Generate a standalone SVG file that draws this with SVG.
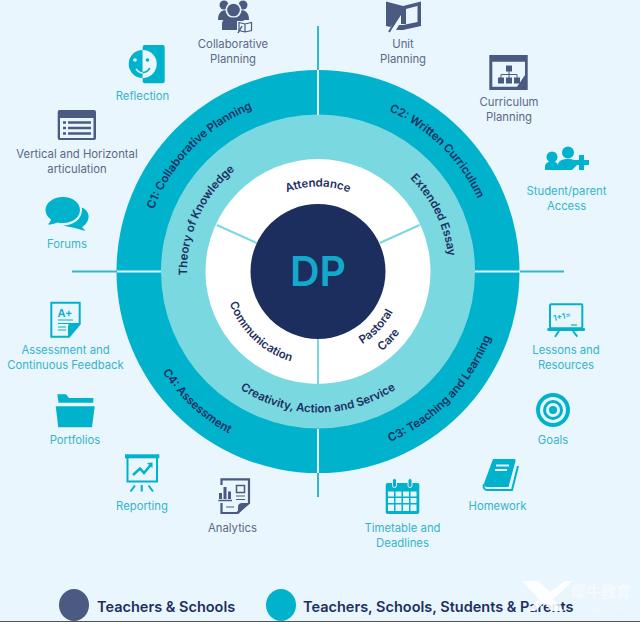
<svg xmlns="http://www.w3.org/2000/svg" width="640" height="622" viewBox="0 0 640 622">
<style>
text{font-family:"Inter","Noto Sans","Noto Sans CJK SC",sans-serif}
.s{fill:#5b6888;font-size:11.3px;text-anchor:middle}
.t{fill:#35b4ca;font-size:11.3px;text-anchor:middle}
.a{fill:#1d2f60;font-size:11.5px;font-weight:600;text-anchor:middle}
.l{fill:#1d2f60;font-size:14.5px;font-weight:600}
.ts{fill:#00b2cb}.ss{fill:#4a5a80}.bg{fill:#eaf6fd}
.sl{fill:none;stroke:#4a5a80;stroke-width:2}
</style>
<defs>
<path id="pc1" d="M142.500 271.500A175.500 175.500 0 0 1 318 96A175.500 175.500 0 0 1 493.500 271.500" transform="rotate(-45.600 318 271.500)"/>
<path id="pc2" d="M142.500 271.500A175.500 175.500 0 0 1 318 96A175.500 175.500 0 0 1 493.500 271.500" transform="rotate(44.700 318 271.500)"/>
<path id="pc3" d="M133 271.500A185 185 0 0 0 318 456.500A185 185 0 0 0 503 271.500" transform="rotate(-46 318 271.500)"/>
<path id="pc4" d="M133 271.500A185 185 0 0 0 318 456.500A185 185 0 0 0 503 271.500" transform="rotate(43 318 271.500)"/>
<path id="ptk" d="M187 271.500A131 131 0 0 1 318 140.500A131 131 0 0 1 449 271.500" transform="rotate(-65.500 318 271.500)"/>
<path id="pee" d="M187 271.500A131 131 0 0 1 318 140.500A131 131 0 0 1 449 271.500" transform="rotate(64 318 271.500)"/>
<path id="pcas" d="M177 271.500A141 141 0 0 0 318 412.500A141 141 0 0 0 459 271.500"/>
<path id="pat" d="M233 271.500A85 85 0 0 1 318 186.500A85 85 0 0 1 403 271.500"/>
<path id="pcm" d="M224 271.500A94 94 0 0 0 318 365.500A94 94 0 0 0 412 271.500" transform="rotate(43.500 318 271.500)"/>
<path id="ppa" d="M233 271.500A85 85 0 0 0 318 356.500A85 85 0 0 0 403 271.500" transform="rotate(-46.500 318 271.500)"/>
<path id="pca" d="M216 271.500A102 102 0 0 0 318 373.500A102 102 0 0 0 420 271.500" transform="rotate(-46 318 271.500)"/>
</defs>
<rect width="640" height="622" fill="#eaf6fd"/>
<g id="rings">
<circle cx="318" cy="271.500" r="201.500" fill="#00b2cb"/>
<circle cx="318" cy="271.500" r="157" fill="#7ad8e0"/>
<circle cx="318" cy="271.500" r="112.500" fill="#fff"/>
</g>
<g id="connectors" fill="none" stroke-width="2">
<path d="M318 26V70M318 473V497M72 271.500H117M520 271.500H564" stroke="#34b7cc"/>
<path d="M318 70V115M318 429V473M117 271.500H161M475 271.500H520" stroke="#eaf6fd"/>
<path d="M318 339V384M216.700 225L256.700 243M419.700 225L379.700 243" stroke="#7ad8e0"/>
</g>
<g id="dp"><circle cx="318" cy="271.500" r="67.500" fill="#1c2e5e"/><text x="318" y="286" font-size="41" font-weight="600" fill="#14a9cb" text-anchor="middle">DP</text></g>
<g id="ring-labels">
<text class="a"><textPath href="#pc1" startOffset="50%">C1: Collaborative Planning</textPath></text>
<text class="a"><textPath href="#pc2" startOffset="50%">C2: Written Curriculum</textPath></text>
<text class="a"><textPath href="#pc3" startOffset="50%">C3: Teaching and Learning</textPath></text>
<text class="a"><textPath href="#pc4" startOffset="50%">C4: Assessment</textPath></text>
<text class="a"><textPath href="#ptk" startOffset="50%">Theory of Knowledge</textPath></text>
<text class="a"><textPath href="#pee" startOffset="50%">Extended Essay</textPath></text>
<text class="a"><textPath href="#pcas" startOffset="50%">Creativity, Action and Service</textPath></text>
<text class="a"><textPath href="#pat" startOffset="50%">Attendance</textPath></text>
<text class="a"><textPath href="#pcm" startOffset="50%">Communication</textPath></text>
<text class="a"><textPath href="#ppa" startOffset="50%">Pastoral</textPath></text>
<text class="a"><textPath href="#pca" startOffset="50%">Care</textPath></text>
</g>
<g id="collaborative-planning">
<circle class="ss" cx="224" cy="5" r="4.500"/><circle class="ss" cx="243" cy="5" r="4.500"/>
<path class="ss" d="M218 20C218 13 221 10 227 10H240C246 10 249 13 249 20Z"/>
<circle class="bg" cx="233.500" cy="10" r="8"/><circle class="ss" cx="233.500" cy="10" r="6.300"/>
<path class="ss" d="M222 30V24C222 19 226 17.500 233 17.500C240 17.500 245 19 245 24V30Z"/>
<path class="bg" d="M237 21H253V32H237Z"/>
<path d="M239 22.500L245 24L251.500 22.500V30.500L245 32L239 30.500ZM245 24V32" fill="none" stroke="#4a5a80" stroke-width="1.200"/>
<path d="M238 33L242 26" stroke="#4a5a80" stroke-width="1.500"/>
<text class="s" x="233" y="48">Collaborative</text><text class="s" x="233" y="63">Planning</text>
</g>
<g id="unit-planning">
<path class="ss" d="M386 1.500L403 6L421 1.500V26L403 30L396 30L399 25L403 25L417.500 22V6L406 9V24H401V9L390 6V22L393 23L390.500 27L386 26Z"/>
<path class="ss" d="M390 5L401 8V15L393 27L390 24Z"/>
<path class="sl" d="M389 32L398 17" stroke-width="3"/>
<text class="s" x="403" y="48">Unit</text><text class="s" x="403" y="63">Planning</text>
</g>
<g id="curriculum-planning">
<rect class="ss" x="489.300" y="55" width="38.400" height="35"/>
<path class="bg" d="M492.300 61.700H525V75L517 86.700H492.300Z"/>
<rect class="ss" x="506" y="65.500" width="6" height="6"/>
<rect class="ss" x="498" y="77.500" width="6" height="6"/><rect class="ss" x="506" y="77.500" width="6" height="6"/><rect class="ss" x="514" y="77.500" width="6" height="6"/>
<path d="M509 71V78M501 78V74.500H517V78" fill="none" stroke="#4a5a80" stroke-width="1"/>
<text class="s" x="509" y="106">Curriculum</text><text class="s" x="509" y="121">Planning</text>
</g>
<g id="student-parent-access">
<circle class="ts" cx="552" cy="157" r="5.500"/><circle class="ts" cx="568" cy="152.500" r="6"/>
<path class="ts" d="M545 170V167C545 163 548 161.500 552 161.500C556 161.500 558 163 558 166V170Z"/>
<path class="ts" d="M558 170V165C558 161 562 159 568 159C573 159 577 160.500 578 164L572 170Z"/>
<path class="ts" d="M579 155H584V160H589V165H584V170H579V165H573V160H579Z"/>
<text class="t" x="566.500" y="195">Student/parent</text><text class="t" x="566.500" y="210">Access</text>
</g>
<g id="reflection">
<rect class="ts" x="142.700" y="45" width="22" height="38.300" rx="2"/>
<path class="ts" d="M142.700 50A14 14 0 0 0 142.700 78Z"/>
<path class="bg" d="M142.700 50A14 14 0 0 1 142.700 78Z"/>
<circle class="bg" cx="135" cy="60" r="1.800"/><circle class="ts" cx="147.500" cy="60" r="1.800"/>
<path d="M136 69C139 73 142 73 142.700 72.500" fill="none" stroke="#eaf6fd" stroke-width="1.500"/>
<path d="M142.700 72.500C145 72.500 148 71 150 68" fill="none" stroke="#00b2cb" stroke-width="1.500"/>
<text class="t" x="142.500" y="100">Reflection</text>
</g>
<g id="vertical-horizontal">
<rect class="ss" x="57.700" y="110" width="38.300" height="30" rx="2"/>
<rect class="bg" x="60" y="118" width="33.500" height="20"/>
<path d="M63 122.500H66M68 122.500H91M63 128H66M68 128H91M63 133.500H66M68 133.500H91" stroke="#4a5a80" stroke-width="2.400"/>
<text class="s" x="77" y="158">Vertical and Horizontal</text><text class="s" x="77" y="173">articulation</text>
</g>
<g id="forums">
<path class="ts" d="M77 206C88 208 91 216 87 222C85 225 84 226 82 227L85.500 231L73 227.500C68 227 64 226 60 224L48 224Z"/>
<ellipse class="bg" cx="63" cy="210" rx="19" ry="15.500"/>
<path class="ts" d="M63 197C53 197 45.500 203 45.500 210C45.500 214 47.500 217 51 219.500L48.500 225L58 222.500C60 223 61 223 63 223C73 223 80 217 80 210C80 203 73 197 63 197Z"/>
<text class="t" x="67" y="248">Forums</text>
</g>
<g id="assessment">
<path d="M51.300 302.700H79.700V324L69 336.700H51.300Z" fill="none" stroke="#00b2cb" stroke-width="2"/>
<path class="ts" d="M80.700 323L68 337.700V327C68 324.500 69 323 72 323Z"/>
<text x="65" y="317" font-size="11" font-weight="600" fill="#00b2cb" text-anchor="middle">A+</text>
<path d="M58 320H73M58 323.500H73M58 327H66M58 330H66" stroke="#00b2cb" stroke-width="1.200"/>
<text class="t" x="65.500" y="354">Assessment and</text><text class="t" x="65.500" y="369">Continuous Feedback</text>
</g>
<g id="portfolios">
<path class="ts" d="M57.300 394.300H66L69 398H93.300V402.700H58.500Z"/>
<path class="ts" d="M55.700 406.300H94.700L92 427.300H58.300Z"/>
<text class="t" x="75" y="444">Portfolios</text>
</g>
<g id="reporting">
<rect class="ts" x="125" y="454.300" width="34.300" height="4"/>
<path d="M127.500 458V481.500H157V458" fill="none" stroke="#00b2cb" stroke-width="2"/>
<path d="M133 475L140 468.500L144 473L151 464.500" fill="none" stroke="#00b2cb" stroke-width="2.500"/>
<path class="ts" d="M147 463L152.500 462.500L152.500 468Z"/>
<path d="M135 485.500L130.500 491.500M141.700 485V491.500M148.500 485.500L153 491.500" stroke="#00b2cb" stroke-width="2"/>
<text class="t" x="142" y="510">Reporting</text>
</g>
<g id="analytics">
<path d="M221.500 485V479.300H249V503L237 513H221.500V503" fill="none" stroke="#4a5a80" stroke-width="2.200"/>
<path class="ss" d="M249.500 503L238 514.200V507C238 504.500 239.500 503 242 503Z"/>
<rect class="ss" x="219" y="493" width="3" height="6"/><rect class="ss" x="223.500" y="487" width="3" height="12"/><rect class="ss" x="228" y="491.500" width="3" height="7.500"/>
<path d="M218.300 500.500H232" stroke="#4a5a80" stroke-width="1.500"/>
<rect x="236.500" y="485.500" width="8" height="7" fill="none" stroke="#4a5a80" stroke-width="1.500"/>
<path d="M236 496H245M236 499.500H245M226 507H234" stroke="#4a5a80" stroke-width="1.200"/>
<text class="s" x="232.500" y="532">Analytics</text>
</g>
<g id="lessons">
<rect x="550" y="304.300" width="32.300" height="24" rx="1" fill="none" stroke="#00b2cb" stroke-width="2"/>
<rect class="ts" x="547.300" y="328" width="37.700" height="3" rx="1"/>
<path d="M559 331L555 336.700M573 331L577.300 336.700" stroke="#00b2cb" stroke-width="2"/>
<text transform="translate(554 321) rotate(-12)" font-size="8" font-weight="600" fill="#00b2cb">1+1=</text>
<path d="M571 325H577" stroke="#00b2cb" stroke-width="1.200"/>
<text class="t" x="566" y="354">Lessons and</text><text class="t" x="566" y="369">Resources</text>
</g>
<g id="goals">
<circle class="ts" cx="553" cy="410" r="17"/><circle class="bg" cx="553" cy="410" r="13"/><circle class="ts" cx="553" cy="410" r="10"/><circle class="bg" cx="553" cy="410" r="7"/><circle class="ts" cx="553" cy="410" r="4"/>
<text class="t" x="553" y="444">Goals</text>
</g>
<g id="homework">
<path class="ts" d="M493 459H514C515.500 459 516 460 515.500 461L508.500 487H487C484.500 487 483.500 484 484.500 482Z"/>
<path d="M518 466L512 490H487C484 490 483 487 484 484" fill="none" stroke="#00b2cb" stroke-width="2"/>
<path d="M496 465.500H509M495 470H507" stroke="#eaf6fd" stroke-width="2"/>
<text class="t" x="497.500" y="510">Homework</text>
</g>
<g id="timetable">
<rect class="ts" x="385.700" y="483" width="33.600" height="31" rx="2"/>
<g class="bg">
<rect x="388" y="491.500" width="6" height="5"/><rect x="395.500" y="491.500" width="6" height="5"/><rect x="403" y="491.500" width="6" height="5"/><rect x="410.500" y="491.500" width="6" height="5"/>
<rect x="388" y="498" width="6" height="5"/><rect x="395.500" y="498" width="6" height="5"/><rect x="403" y="498" width="6" height="5"/><rect x="410.500" y="498" width="6" height="5"/>
<rect x="388" y="504.500" width="6" height="6.500"/><rect x="395.500" y="504.500" width="6" height="6.500"/><rect x="403" y="504.500" width="6" height="6.500"/><rect x="410.500" y="504.500" width="6" height="6.500"/>
</g>
<rect x="392.500" y="478.500" width="4" height="9" rx="2" fill="#00b2cb" stroke="#eaf6fd"/><rect x="408" y="478.500" width="4" height="9" rx="2" fill="#00b2cb" stroke="#eaf6fd"/>
<text class="t" x="402.500" y="532">Timetable and</text><text class="t" x="402.500" y="547">Deadlines</text>
</g>
<g id="legend">
<ellipse cx="74" cy="605" rx="15" ry="16" fill="#4a5a80"/>
<text class="l" x="97" y="612">Teachers &amp; Schools</text>
<ellipse cx="281" cy="605" rx="15" ry="16" fill="#00b2cb"/>
<text class="l" x="303" y="612">Teachers, Schools, Students &amp; Parents</text>
</g>
<g id="watermark">
<path d="M522 581H538L550 592L565 581H573L553 599L564 611H552L544 603L535 611H527L539 599Z" fill="#fff" opacity=".9"/>
<text x="571" y="597" font-size="15" font-weight="700" fill="#fff" opacity=".5">犀牛教育</text>
<text x="592" y="612" font-size="8" fill="#fff" opacity=".4" letter-spacing="8">NEW</text>
</g>
<rect y="621" width="640" height="1" fill="#555"/>
</svg>
